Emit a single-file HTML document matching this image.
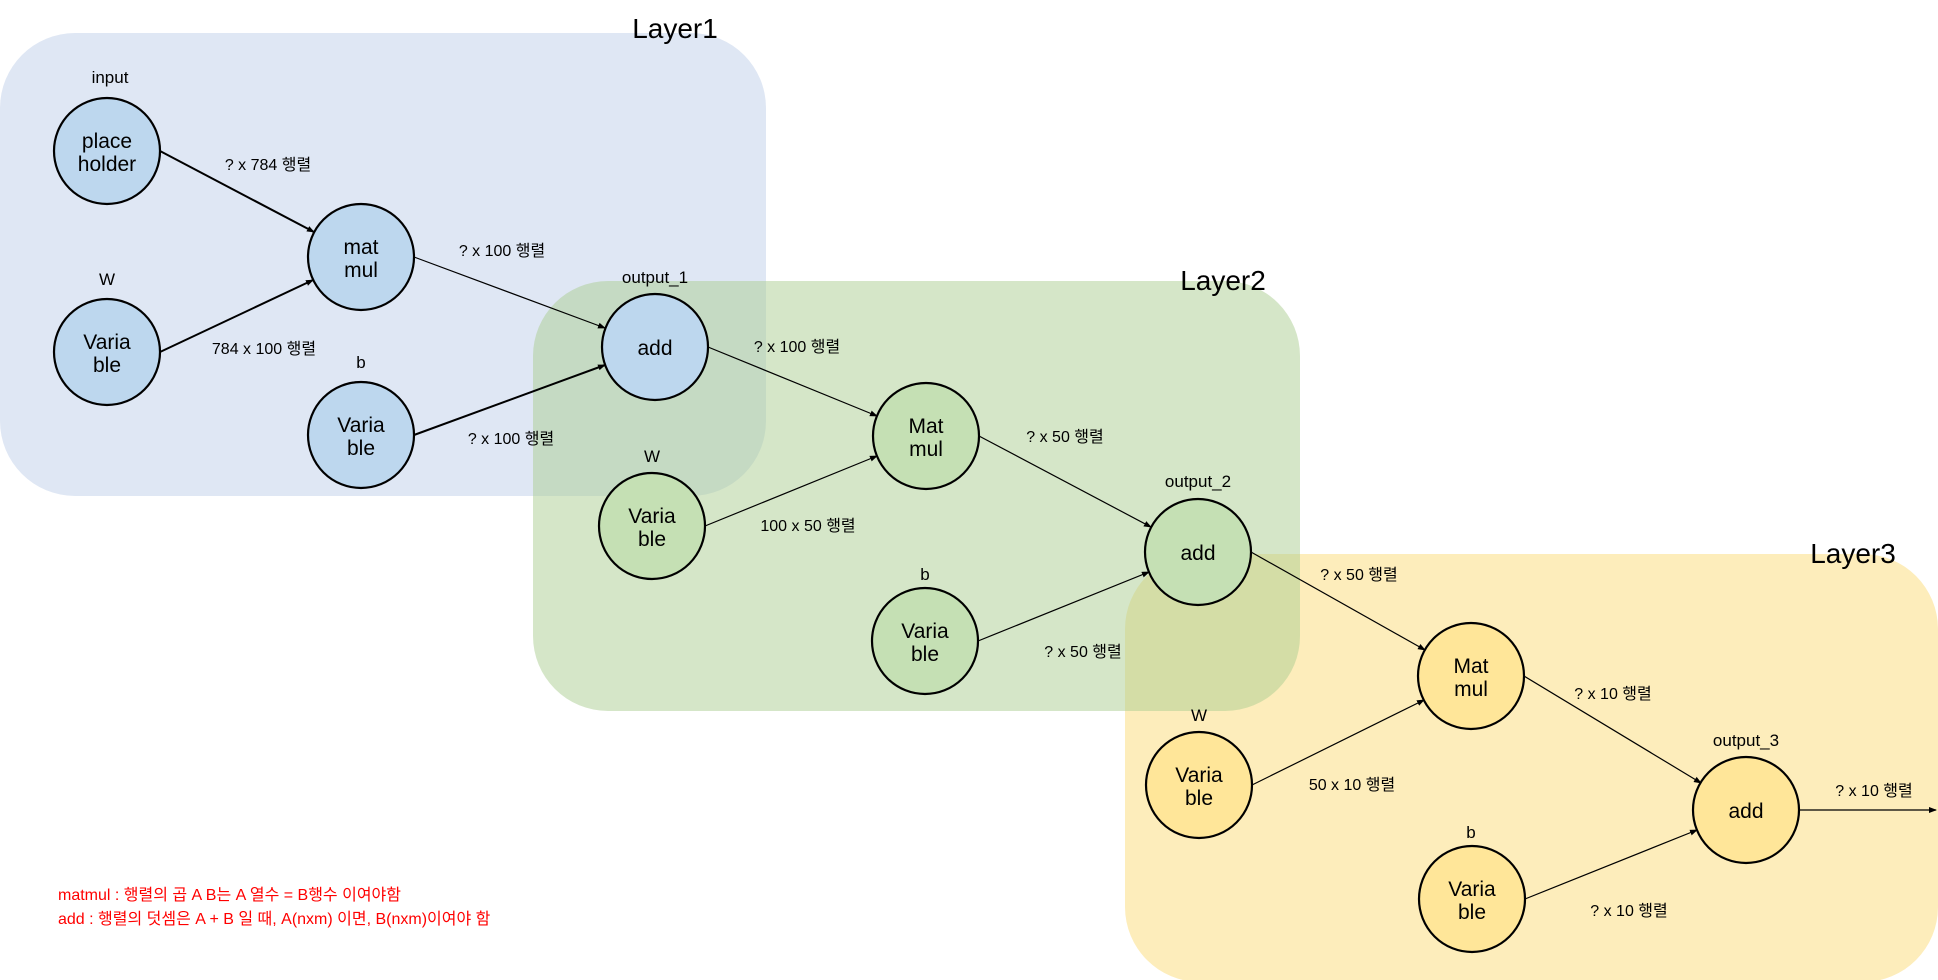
<!DOCTYPE html>
<html><head><meta charset="utf-8"><style>
html,body{margin:0;padding:0;background:#fff;}
svg{display:block;}
text{font-family:"Liberation Sans","Noto Sans CJK KR",sans-serif;fill:#000;}
.n{font-size:21px;text-anchor:middle;}
.l{font-size:17px;text-anchor:middle;}
.e{font-size:16px;text-anchor:middle;}
.L{font-size:28px;text-anchor:middle;}
</style></head><body>
<svg width="1938" height="980" viewBox="0 0 1938 980" xmlns="http://www.w3.org/2000/svg">
<defs>
<marker id="a" markerWidth="8" markerHeight="8" refX="7" refY="4" orient="auto" markerUnits="userSpaceOnUse">
<path d="M0,1 L8,4 L0,7 z" fill="#000"/></marker>
</defs>
<rect x="0" y="33" width="766" height="463" rx="75" fill="#dfe7f4"/>
<rect x="1125" y="554" width="813" height="428" rx="75" fill="#fdedbb"/>
<rect x="533" y="281" width="767" height="430" rx="75" fill="rgb(171,205,145)" fill-opacity="0.5"/>
<text class="L" x="675" y="38">Layer1</text>
<text class="L" x="1223" y="290">Layer2</text>
<text class="L" x="1853" y="563">Layer3</text>

<g stroke="#000" fill="none" marker-end="url(#a)">
<line x1="160" y1="151" x2="314" y2="232" stroke-width="2"/>
<line x1="160" y1="352" x2="313" y2="280" stroke-width="2"/>
<line x1="414" y1="257" x2="605" y2="328" stroke-width="1.2"/>
<line x1="414" y1="435" x2="605" y2="365" stroke-width="2"/>
<line x1="708" y1="347" x2="877" y2="416" stroke-width="1.2"/>
<line x1="705" y1="526" x2="877" y2="456" stroke-width="1.2"/>
<line x1="979" y1="436" x2="1151" y2="527" stroke-width="1.2"/>
<line x1="978" y1="641" x2="1149" y2="572" stroke-width="1.2"/>
<line x1="1251" y1="552" x2="1425" y2="650" stroke-width="1.2"/>
<line x1="1252" y1="785" x2="1424" y2="700" stroke-width="1.2"/>
<line x1="1524" y1="676" x2="1701" y2="783" stroke-width="1.2"/>
<line x1="1525" y1="899" x2="1697" y2="830" stroke-width="1.2"/>
<line x1="1799" y1="810" x2="1936" y2="810" stroke-width="1.2"/>
</g>

<g stroke="#000" stroke-width="2.2">
<ellipse cx="107" cy="151" rx="53" ry="53" fill="#bdd7ee"/>
<ellipse cx="361" cy="257" rx="53" ry="53" fill="#bdd7ee"/>
<ellipse cx="107" cy="352" rx="53" ry="53" fill="#bdd7ee"/>
<ellipse cx="361" cy="435" rx="53" ry="53" fill="#bdd7ee"/>
<ellipse cx="655" cy="347" rx="53" ry="53" fill="#bdd7ee"/>
<ellipse cx="926" cy="436" rx="53" ry="53" fill="#c5e0b4"/>
<ellipse cx="652" cy="526" rx="53" ry="53" fill="#c5e0b4"/>
<ellipse cx="1198" cy="552" rx="53" ry="53" fill="#c5e0b4"/>
<ellipse cx="925" cy="641" rx="53" ry="53" fill="#c5e0b4"/>
<ellipse cx="1471" cy="676" rx="53" ry="53" fill="#ffe699"/>
<ellipse cx="1199" cy="785" rx="53" ry="53" fill="#ffe699"/>
<ellipse cx="1746" cy="810" rx="53" ry="53" fill="#ffe699"/>
<ellipse cx="1472" cy="899" rx="53" ry="53" fill="#ffe699"/>
</g>

<text class="n" x="107" y="148">place</text><text class="n" x="107" y="171">holder</text>
<text class="n" x="361" y="254">mat</text><text class="n" x="361" y="277">mul</text>
<text class="n" x="107" y="349">Varia</text><text class="n" x="107" y="372">ble</text>
<text class="n" x="361" y="432">Varia</text><text class="n" x="361" y="455">ble</text>
<text class="n" x="655" y="355">add</text>
<text class="n" x="926" y="433">Mat</text><text class="n" x="926" y="456">mul</text>
<text class="n" x="652" y="523">Varia</text><text class="n" x="652" y="546">ble</text>
<text class="n" x="1198" y="560">add</text>
<text class="n" x="925" y="638">Varia</text><text class="n" x="925" y="661">ble</text>
<text class="n" x="1471" y="673">Mat</text><text class="n" x="1471" y="696">mul</text>
<text class="n" x="1199" y="782">Varia</text><text class="n" x="1199" y="805">ble</text>
<text class="n" x="1746" y="818">add</text>
<text class="n" x="1472" y="896">Varia</text><text class="n" x="1472" y="919">ble</text>

<text class="l" x="110" y="83">input</text>
<text class="l" x="107" y="285">W</text>
<text class="l" x="361" y="368">b</text>
<text class="l" x="655" y="283">output_1</text>
<text class="l" x="652" y="462">W</text>
<text class="l" x="925" y="580">b</text>
<text class="l" x="1198" y="487">output_2</text>
<text class="l" x="1199" y="721">W</text>
<text class="l" x="1471" y="838">b</text>
<text class="l" x="1746" y="746">output_3</text>

<text class="e" x="268" y="170">? x 784 행렬</text>
<text class="e" x="502" y="256">? x 100 행렬</text>
<text class="e" x="264" y="354">784 x 100 행렬</text>
<text class="e" x="511" y="444">? x 100 행렬</text>
<text class="e" x="797" y="352">? x 100 행렬</text>
<text class="e" x="808" y="531">100 x 50 행렬</text>
<text class="e" x="1065" y="442">? x 50 행렬</text>
<text class="e" x="1083" y="657">? x 50 행렬</text>
<text class="e" x="1359" y="580">? x 50 행렬</text>
<text class="e" x="1613" y="699">? x 10 행렬</text>
<text class="e" x="1352" y="790">50 x 10 행렬</text>
<text class="e" x="1874" y="796">? x 10 행렬</text>
<text class="e" x="1629" y="916">? x 10 행렬</text>

<text x="58" y="900" style="font-size:16px;fill:#ff0000;">matmul : 행렬의 곱 A B는  A 열수 = B행수 이여야함</text>
<text x="58" y="924" style="font-size:16px;fill:#ff0000;">add : 행렬의 덧셈은 A + B 일 때, A(nxm) 이면, B(nxm)이여야 함</text>
</svg>
</body></html>
